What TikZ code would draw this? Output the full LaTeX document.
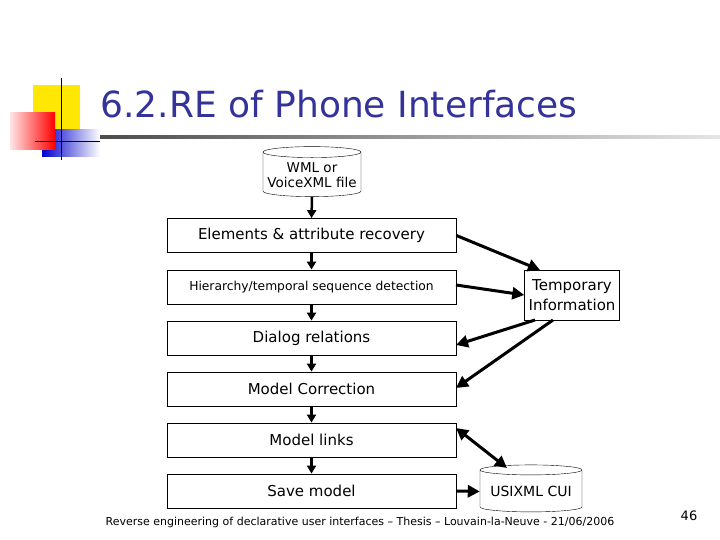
\documentclass[tikz,border=0pt]{standalone}
\usepackage{fontspec}
\setmainfont{DejaVu Sans}
\usetikzlibrary{shapes.geometric,arrows.meta}
\definecolor{titleblue}{HTML}{333399}
\begin{document}
\begin{tikzpicture}[x=1pt,y=-1pt,
  box/.style={draw,thick,minimum width=289pt,minimum height=34pt,inner sep=0pt,font=\fontsize{15}{17}\selectfont},
  cyl/.style={draw,cylinder,shape border rotate=90,aspect=0.12,inner sep=1pt,align=center},
  arr/.style={line width=3pt,-{Triangle[length=12pt,width=12pt]}},
  darr/.style={line width=3pt,{Triangle[length=12pt,width=12pt]}-{Triangle[length=12pt,width=12pt]}}]
\useasboundingbox (0,0) rectangle (720,540);
% logo
\fill[yellow!90!orange] (33,85) rectangle (80,130);
\shade[left color=blue!80!black,right color=white] (42,130) rectangle (100,157);
\shade[left color=red!10,right color=red] (10,113) rectangle (55,150);
\draw[thick] (61,78) -- (61,160);
\draw[thick] (35,141) -- (100,141);
\shade[left color=black!70,right color=black!10] (100,136) rectangle (720,139);
\node[anchor=base west,text=titleblue,font=\fontsize{36}{40}\selectfont] (title) at (97,118) {6.2.RE of Phone Interfaces};
% nodes
\node[cyl,minimum width=98pt,minimum height=50pt,font=\fontsize{13.5}{15}\selectfont] (wml) at (312,175) {WML or\\VoiceXML file};
\node[box] (e) at (311.5,235.5) {Elements \& attribute recovery};
\node[box,font=\fontsize{12.3}{15}\selectfont] (h) at (311.5,287) {Hierarchy/temporal sequence detection};
\node[box] (d) at (311.5,338) {Dialog relations};
\node[box] (m) at (311.5,389) {Model Correction};
\node[box] (l) at (311.5,440) {Model links};
\node[box] (s) at (311.5,491) {Save model};
\node[draw,minimum width=95pt,minimum height=50pt,align=center,font=\fontsize{15}{20}\selectfont,inner sep=0pt] (t) at (572,295) {Temporary\\Information};
\node[cyl,minimum width=102pt,minimum height=47pt,font=\fontsize{14}{16}\selectfont] (u) at (531,491.5) {USIXML CUI};
% arrows
\foreach \a/\b in {wml/e,e/h,h/d,d/m,m/l,l/s} \draw[line width=2.5pt,-{Triangle[length=8pt,width=9pt]}] (\a.south) -- (\b.north);
\draw[arr] (e.east) -- (540,270);
\draw[arr] (456,285) -- (t.west);
\draw[arr] (535,320) -- (456,345);
\draw[arr] (553,320) -- (456,388);
\draw[darr] (456,428) -- (507,468);
\draw[arr] (s.east) -- (u.west);
% footer
\node[font=\fontsize{11}{13}\selectfont] (foot) at (360,522) {Reverse engineering of declarative user interfaces -- Thesis -- Louvain-la-Neuve - 21/06/2006};
\node[font=\fontsize{13}{15}\selectfont] (pg) at (689,516) {46};
\end{tikzpicture}
\end{document}
